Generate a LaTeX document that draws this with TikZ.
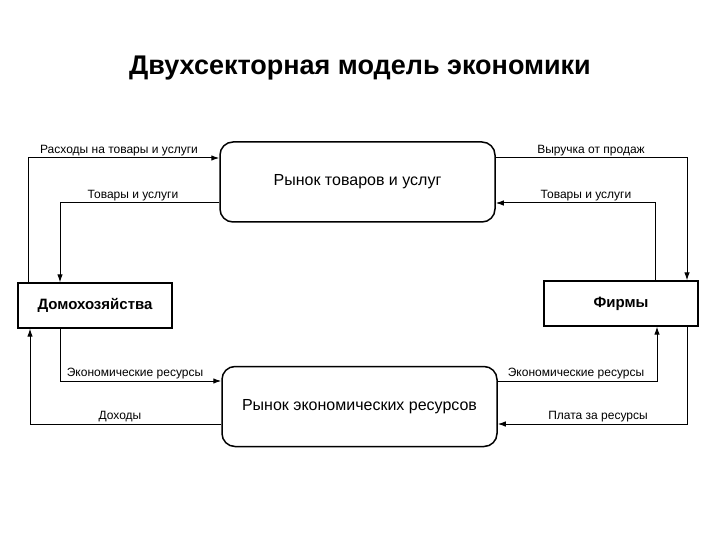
\documentclass[tikz,border=0pt]{standalone}
\usepackage{fontspec}
\setmainfont{Liberation Sans}
\usetikzlibrary{arrows.meta}
\begin{document}
\begin{tikzpicture}[x=1pt,y=-1pt,
  mkt/.style={draw,line width=1.5pt,rounded corners=13pt,minimum width=275pt,minimum height=80pt,font=\fontsize{16}{18}\selectfont},
  agent/.style={draw,line width=1.3pt,minimum width=154pt,minimum height=45pt,font=\bfseries\fontsize{15}{17}\selectfont},
  flow/.style={line width=1pt,-{Latex[length=8pt,width=5.5pt]}},
  lbl/.style={font=\fontsize{12}{14}\selectfont,above,inner sep=2pt}]
\useasboundingbox (0,0) rectangle (720,540);
\node[font=\bfseries\fontsize{27}{31}\selectfont] (title) at (360,68) {Двухсекторная модель экономики};
\node[mkt] (goods) at (357.5,182) {Рынок товаров и услуг};
\node[mkt] (res) at (359.5,406.5) {Рынок экономических ресурсов};
\node[agent] (hh) at (95,305.5) {Домохозяйства};
\node[agent] (firm) at (621,303.5) {Фирмы};
% top
\coordinate (a1) at (28,158); \coordinate (a2) at (60,203);
\coordinate (b1) at (687,158); \coordinate (b2) at (655,203);
\draw[flow] (hh.north -| a1) -- (a1) -- (a1 -| goods.west);
\draw[flow] (a2 -| goods.west) -- (a2) -- (hh.north -| a2);
\draw[flow] (b1 -| goods.east) -- (b1) -- (firm.north -| b1);
\draw[flow] (firm.north -| b2) -- (b2) -- (b2 -| goods.east);
\node[lbl] (l1) at (119,158) {Расходы на товары и услуги};
\node[lbl] (l2) at (133,203) {Товары и услуги};
\node[lbl] (l3) at (591,158) {Выручка от продаж};
\node[lbl] (l4) at (586,203) {Товары и услуги};
% bottom
\coordinate (c1) at (60,381); \coordinate (c2) at (30,424);
\coordinate (d1) at (657,381); \coordinate (d2) at (687,424);
\draw[flow] (hh.south -| c1) -- (c1) -- (c1 -| res.west);
\draw[flow] (c2 -| res.west) -- (c2) -- (hh.south -| c2);
\draw[flow] (d1 -| res.east) -- (d1) -- (firm.south -| d1);
\draw[flow] (firm.south -| d2) -- (d2) -- (d2 -| res.east);
\node[lbl] (l5) at (135,381) {Экономические ресурсы};
\node[lbl] (l6) at (120,424) {Доходы};
\node[lbl] (l7) at (576,381) {Экономические ресурсы};
\node[lbl] (l8) at (598,424) {Плата за ресурсы};
\end{tikzpicture}
\end{document}
